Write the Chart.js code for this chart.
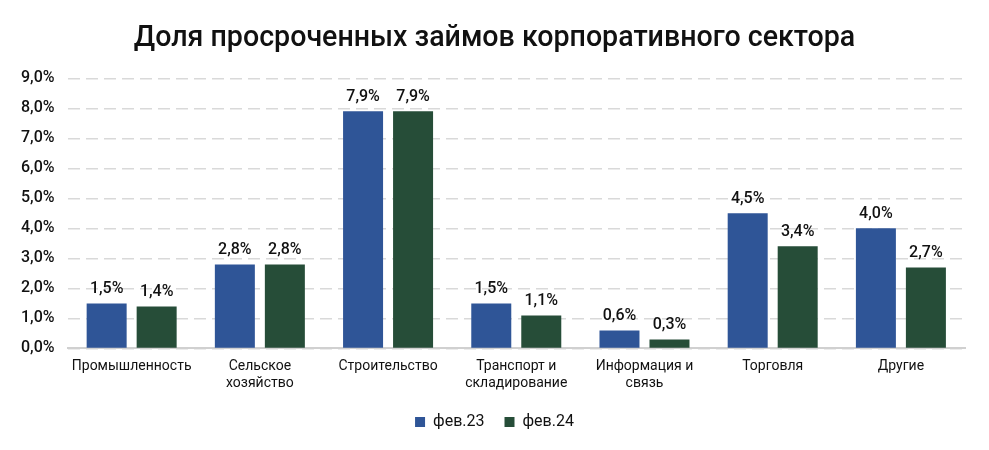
<!DOCTYPE html>
<html>
<head>
<meta charset="utf-8">
<script src="https://cdn.jsdelivr.net/npm/chart.js@4"></script>
<style>
  html, body { margin: 0; padding: 0; background: #fff; }
  #wrap { width: 989px; height: 450px; }
</style>
</head>
<body>
<div id="wrap"><canvas id="myChart" width="989" height="450"></canvas></div>
<script>
const categories = [
  'Промышленность',
  ['Сельское', 'хозяйство'],
  'Строительство',
  ['Транспорт и', 'складирование'],
  ['Информация и', 'связь'],
  'Торговля',
  'Другие'
];
const feb23 = [1.5, 2.8, 7.9, 1.5, 0.6, 4.5, 4.0];
const feb24 = [1.4, 2.8, 7.9, 1.1, 0.3, 3.4, 2.7];
const seriesNames = ['фев.23', 'фев.24'];

const FONT = 'Roboto';
const fmt = v => v.toFixed(1).replace('.', ',') + '%';

// simple value labels above bars
const barLabels = {
  id: 'barLabels',
  afterDatasetsDraw(chart) {
    const ctx = chart.ctx;
    ctx.save();
    ctx.font = '500 16px ' + FONT;
    ctx.fillStyle = '#111';
    ctx.textAlign = 'center';
    ctx.textBaseline = 'bottom';
    chart.data.datasets.forEach((ds, i) => {
      chart.getDatasetMeta(i).data.forEach((bar, j) => {
        ctx.fillText(fmt(ds.data[j]), bar.x, bar.y - 6);
      });
    });
    ctx.restore();
  }
};

const ctx = document.getElementById('myChart').getContext('2d');
new Chart(ctx, {
  type: 'bar',
  data: {
    labels: categories,
    datasets: [{
      label: seriesNames[0],
      data: feb23,
      backgroundColor: '#2F5597'
    }, {
      label: seriesNames[1],
      data: feb24,
      backgroundColor: '#264D38'
    }]
  },
  plugins: [barLabels],
  options: {
    responsive: false,
    animation: false,
    layout: { padding: { left: 8, right: 8, top: 4, bottom: 10 } },
    datasets: {
      bar: { categoryPercentage: 0.78, barPercentage: 0.8 }
    },
    plugins: {
      title: {
        display: true,
        text: 'Доля просроченных займов корпоративного сектора',
        font: { family: FONT, size: 28.6, weight: '500' },
        color: '#111',
        padding: { top: 18, bottom: 22 }
      },
      legend: {
        position: 'bottom',
        labels: {
          boxWidth: 10,
          boxHeight: 10,
          font: { family: FONT, size: 16 },
          color: '#111',
          padding: 20
        }
      },
      tooltip: { enabled: false }
    },
    scales: {
      x: {
        grid: { display: false },
        border: { display: true, color: '#d0d0d0', width: 2 },
        ticks: {
          font: { family: FONT, size: 14 },
          color: '#111',
          maxRotation: 0,
          autoSkip: false,
          padding: 2
        }
      },
      y: {
        min: 0,
        max: 9,
        ticks: {
          stepSize: 1,
          callback: fmt,
          font: { family: FONT, size: 16, weight: '500' },
          color: '#111',
          padding: 13
        },
        grid: { color: '#d9d9d9', lineWidth: 1.5, drawTicks: false },
        border: { display: false, dash: [12, 6] }
      },
      // empty right axis, only keeps a margin on the right
      yRight: {
        position: 'right',
        grid: { display: false },
        ticks: { display: false },
        border: { display: false },
        afterFit: scale => { scale.width = 16; }
      }
    }
  }
});
</script>
</body>
</html>
